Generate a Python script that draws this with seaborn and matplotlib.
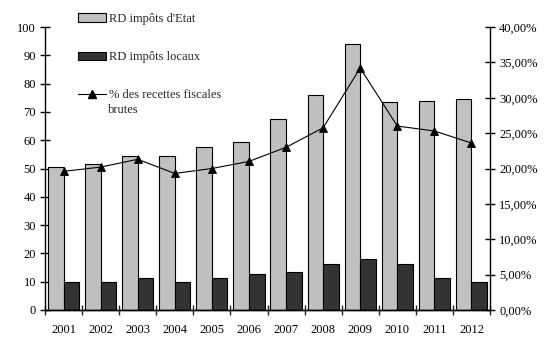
import pandas as pd
import matplotlib.pyplot as plt
import seaborn as sns
from matplotlib.lines import Line2D
from matplotlib.ticker import FuncFormatter

years = ['2001', '2002', '2003', '2004', '2005', '2006',
         '2007', '2008', '2009', '2010', '2011', '2012']
rd_etat = [50.5, 51.5, 54.5, 54.5, 57.5, 59.5, 67.5, 76, 94, 73.5, 74, 74.5]
rd_locaux = [10, 10, 11.2, 10, 11.2, 12.6, 13.3, 16.2, 17.9, 16.2, 11.2, 9.8]
pct_recettes = [19.6, 20.2, 21.3, 19.3, 20.0, 21.0, 23.0, 25.75, 34.2, 26.0, 25.3, 23.6]

lab_etat = "RD impôts d'Etat"
lab_loc = "RD impôts locaux"
lab_pct = "% des recettes fiscales"
lab_pct2 = "brutes"

df = pd.DataFrame({'Année': years * 2,
                   'Valeur': rd_etat + rd_locaux,
                   'Série': [lab_etat] * 12 + [lab_loc] * 12})

sns.set_style('white')
plt.rcParams['font.family'] = ['Liberation Serif', 'DejaVu Serif']
plt.rcParams['font.size'] = 9

fig = plt.figure(figsize=(5.57, 3.56), dpi=100)
ax = fig.add_axes([45 / 557, 1 - 310 / 356, 445 / 557, 283 / 356])

sns.barplot(data=df, x='Année', y='Valeur', hue='Série', ax=ax,
            palette=['#c0c0c0', '#333333'], width=0.84, gap=0,
            edgecolor='black', linewidth=0.8, legend=False)
ax.set_ylim(0, 100)
ax.set_xlim(-0.5, 11.5)
ax.set_yticks(range(0, 101, 10))
ax.set_xlabel('')
ax.set_ylabel('')

ax2 = ax.twinx()
sns.pointplot(x=years, y=pct_recettes, ax=ax2, color='black', markers='^',
              markersize=5.5, linewidth=0.8)
ax2.set_ylim(0, 40)
ax2.set_yticks(range(0, 41, 5))
ax2.yaxis.set_major_formatter(FuncFormatter(lambda v, p: f'{v:.2f}%'.replace('.', ',')))
ax2.set_xlim(-0.5, 11.5)

for a in (ax, ax2):
    a.spines['top'].set_visible(False)
    for s in a.spines.values():
        s.set_color('black')
        s.set_linewidth(1)
ax.spines['right'].set_visible(False)
ax2.spines['left'].set_visible(False)

ax.tick_params(axis='y', direction='inout', length=7, width=1, colors='black', pad=3, left=True)
ax2.tick_params(axis='y', direction='inout', length=7, width=1, colors='black', pad=3, right=True)
ax.set_xticks([i - 0.5 for i in range(13)], minor=True)
ax.tick_params(axis='x', which='minor', direction='inout', length=7, width=1, bottom=True)
ax.tick_params(axis='x', which='major', length=0, pad=10, colors='black')

handles = [plt.Rectangle((0, 0), 1, 1, facecolor='#c0c0c0', edgecolor='black', linewidth=0.8),
           plt.Rectangle((0, 0), 1, 1, facecolor='#333333', edgecolor='black', linewidth=0.8),
           Line2D([], [], color='black', marker='^', markersize=5.5, linewidth=0.8)]
fig.legend(handles, [lab_etat, lab_loc, lab_pct], loc='upper left',
           bbox_to_anchor=(78 / 557, 1 - 13 / 356), frameon=False, borderpad=0,
           borderaxespad=0, handlelength=2.2, handletextpad=0.3,
           labelspacing=2.1, fontsize=9)
fig.text(108 / 557, 1 - 109.5 / 356, lab_pct2, fontsize=9, va='center', ha='left')

fig.savefig('out.png', dpi=100)
